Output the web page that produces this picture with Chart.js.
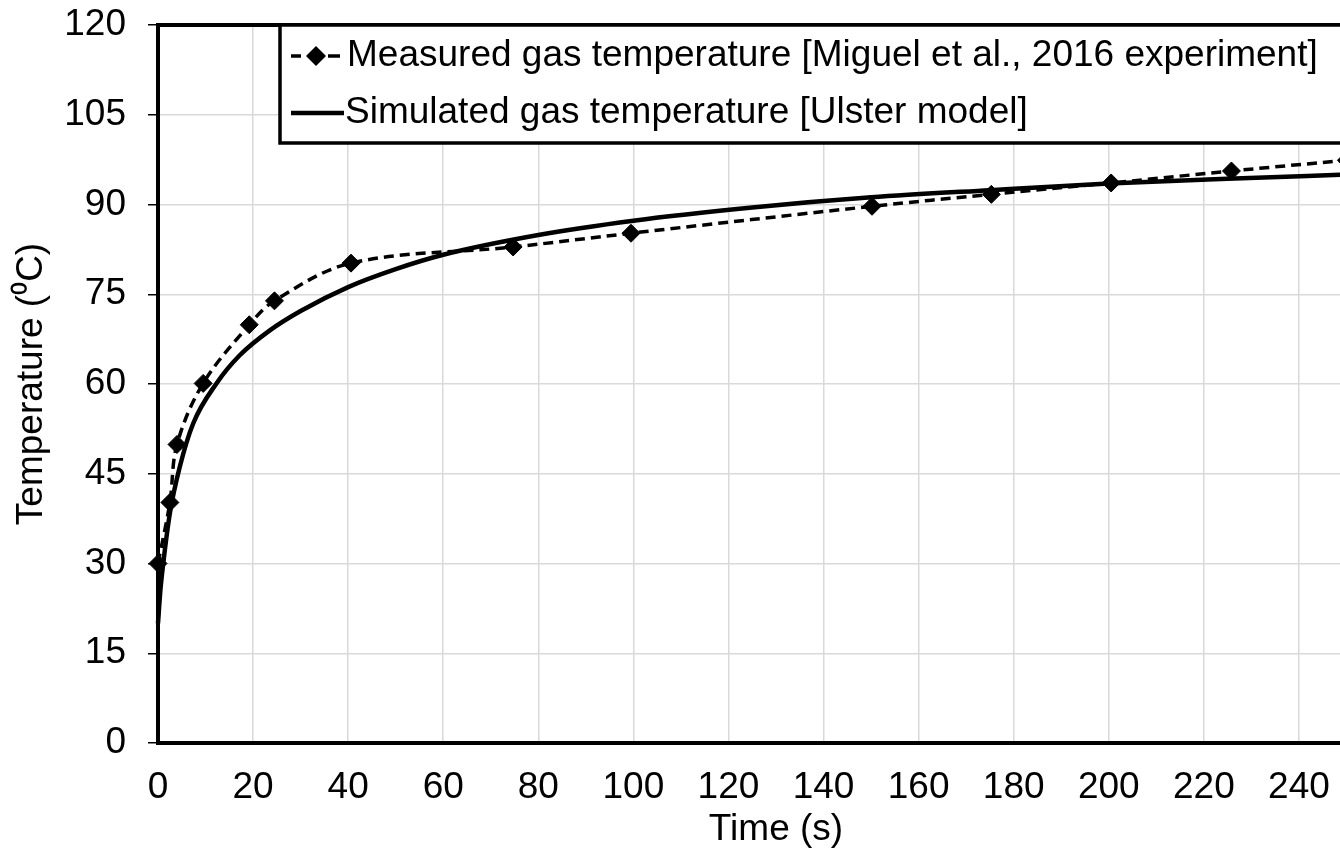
<!DOCTYPE html>
<html>
<head>
<meta charset="utf-8">
<title>Gas temperature</title>
<script src="https://cdn.jsdelivr.net/npm/chart.js@4.4.1/dist/chart.umd.min.js"></script>
<style>
  html, body { margin: 0; padding: 0; background: #fff; overflow: hidden; }
  #wrap { position: absolute; left: 0; top: 0; width: 1420px; height: 859px; }
</style>
</head>
<body>
<div id="wrap"><canvas id="myChart" width="1420" height="859"></canvas></div>
<script>
// measured gas temperature, Miguel et al. 2016
var measuredTime = [0, 2.5, 4, 9.5, 19.2, 24.5, 40.6, 74.7, 99.5, 150.2, 175.3, 200.5, 225.8, 250];
var measuredTemp = [30, 40.2, 49.9, 60.1, 69.9, 73.9, 80.2, 82.9, 85.2, 89.7, 91.7, 93.6, 95.6, 97.4];

// simulated gas temperature, Ulster model
var simTime = [0, 0.5, 1.1, 2.5, 4.6, 7.4, 12.3, 17.2, 23.6, 30, 40, 50, 60, 80, 100, 125, 150, 175, 200, 225, 250];
var simTemp = [20, 25.5, 30, 38.4, 46.2, 53.4, 60.1, 64.8, 69, 72.2, 76.2, 79.2, 81.6, 84.9, 87.3, 89.5, 91.2, 92.4, 93.5, 94.3, 95];

var xTicks = [0, 20, 40, 60, 80, 100, 120, 140, 160, 180, 200, 220, 240, 260];
var yTicks = [0, 15, 30, 45, 60, 75, 90, 105, 120];

var labelMeasured = 'Measured gas temperature [Miguel et al., 2016 experiment]';
var labelSim = 'Simulated gas temperature [Ulster model]';

function toPoints(xs, ys) {
    var pts = [];
    for (var i = 0; i < xs.length; i++) {
        pts.push({ x: xs[i], y: ys[i] });
    }
    return pts;
}

Chart.defaults.font.family = '"Liberation Sans", Arial, sans-serif';
Chart.defaults.font.size = 37;
Chart.defaults.color = '#000';

// top + right edges of the plot box
var frame = {
    id: 'frame',
    afterDatasetsDraw: function (chart) {
        var a = chart.chartArea;
        var ctx = chart.ctx;
        ctx.save();
        ctx.strokeStyle = '#000';
        ctx.lineWidth = 4;
        ctx.beginPath();
        ctx.moveTo(a.left, a.top);
        ctx.lineTo(a.right, a.top);
        ctx.lineTo(a.right, a.bottom);
        ctx.stroke();
        ctx.restore();
    }
};

// boxed legend in the top part of the plot
var boxLegend = {
    id: 'boxLegend',
    afterDraw: function (chart) {
        var ctx = chart.ctx;
        var a = chart.chartArea;
        var left = 280, top = a.top, bottom = 143, right = a.right;
        var ds = chart.data.datasets;

        ctx.save();
        ctx.fillStyle = '#fff';
        ctx.fillRect(left, top, right - left, bottom - top);
        ctx.strokeStyle = '#000';
        ctx.lineWidth = 3.5;
        ctx.strokeRect(left, top, right - left, bottom - top);

        // measured: dash - diamond - dash
        var y1 = 56;
        ctx.lineWidth = 3.5;
        ctx.beginPath();
        ctx.moveTo(291, y1); ctx.lineTo(301, y1);
        ctx.moveTo(328, y1); ctx.lineTo(340, y1);
        ctx.stroke();
        ctx.fillStyle = '#000';
        ctx.beginPath();
        ctx.moveTo(306, y1); ctx.lineTo(316, y1 - 10);
        ctx.lineTo(326, y1); ctx.lineTo(316, y1 + 10);
        ctx.closePath();
        ctx.fill();

        // simulated: solid line
        var y2 = 113;
        ctx.lineWidth = 4.5;
        ctx.beginPath();
        ctx.moveTo(291, y2); ctx.lineTo(344, y2);
        ctx.stroke();

        ctx.font = '37px "Liberation Sans", Arial, sans-serif';
        ctx.textBaseline = 'middle';
        ctx.textAlign = 'left';
        ctx.fillText(ds[0].label, 347, y1);
        ctx.fillText(ds[1].label, 345, y2);
        ctx.restore();
    }
};

new Chart(document.getElementById('myChart'), {
    type: 'line',
    data: {
        datasets: [{
            label: labelMeasured,
            data: toPoints(measuredTime, measuredTemp),
            borderColor: '#000',
            backgroundColor: '#000',
            borderWidth: 3.5,
            borderDash: [10, 6],
            tension: 0.35,
            pointStyle: 'rectRot',
            pointRadius: 9,
            pointBorderWidth: 1,
            pointBackgroundColor: '#000',
            fill: false,
            clip: false
        }, {
            label: labelSim,
            data: toPoints(simTime, simTemp),
            borderColor: '#000',
            borderWidth: 4.5,
            cubicInterpolationMode: 'monotone',
            pointRadius: 0,
            fill: false,
            clip: false
        }]
    },
    options: {
        responsive: false,
        animation: false,
        layout: { padding: { left: 0, top: 25, right: 26, bottom: 0 } },
        plugins: {
            legend: { display: false },
            tooltip: { enabled: false }
        },
        scales: {
            x: {
                type: 'linear',
                min: 0,
                max: 260,
                afterBuildTicks: function (axis) {
                    axis.ticks = xTicks.map(function (v) { return { value: v }; });
                },
                afterFit: function (axis) {
                    axis.height = 116;
                    axis.paddingLeft = 0;
                    axis.paddingRight = 0;
                },
                grid: { color: '#d9d9d9', lineWidth: 1.5, drawTicks: false },
                border: { color: '#000', width: 4 },
                ticks: { padding: 23, color: '#000', maxRotation: 0 },
                title: { display: true, text: 'Time (s)', color: '#000', padding: { top: 0, bottom: 7 } }
            },
            y: {
                min: 0,
                max: 120,
                afterBuildTicks: function (axis) {
                    axis.ticks = yTicks.map(function (v) { return { value: v }; });
                },
                afterFit: function (axis) {
                    axis.width = 158;
                    axis.paddingTop = 0;
                    axis.paddingBottom = 0;
                },
                grid: { color: '#d9d9d9', lineWidth: 1.5, tickColor: '#000', tickLength: 10, tickWidth: 1.5 },
                border: { color: '#000', width: 4 },
                ticks: { padding: 22, color: '#000' },
                title: { display: true, text: 'Temperature (⁰C)', color: '#000', padding: { top: 10, bottom: 0 } }
            }
        }
    },
    plugins: [frame, boxLegend]
});
</script>
</body>
</html>
